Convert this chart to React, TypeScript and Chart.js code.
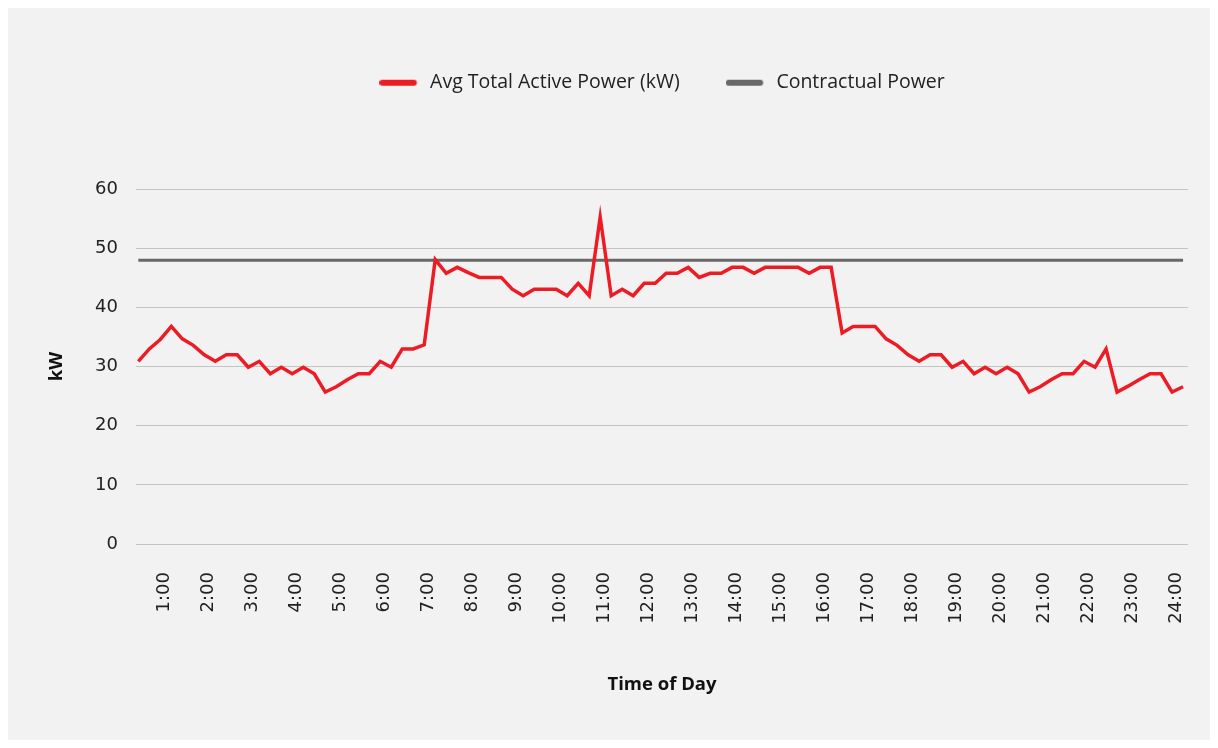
import React, { useEffect, useRef } from 'react';
import { Chart, registerables } from 'chart.js';

Chart.register(...registerables);

// 96 quarter-hour slots; slot index 2 is labelled "1:00", slot 94 is "24:00"
const timeLabels: string[] = [];
for (let i = 0; i < 96; i++) {
  const m = (i + 2) * 15;
  timeLabels.push(`${Math.floor(m / 60)}:${String(m % 60).padStart(2, '0')}`);
}
// show only whole hours on the axis
const hourTickIndexes: number[] = timeLabels
  .map((t, i) => (t.endsWith(':00') && i <= 94 ? i : -1))
  .filter((i) => i >= 0);

const avgPower: number[] = [
  30.9, 33.0, 34.6, 36.8, 34.7, 33.6, 32.0, 30.9, 32.0, 32.0, 29.9, 30.9, 28.8, 29.9, 28.8, 29.9,
  28.8, 25.7, 26.6, 27.8, 28.8, 28.8, 30.9, 29.9, 33.0, 33.0, 33.7, 48.1, 45.8, 46.8, 45.9, 45.1,
  45.1, 45.1, 43.1, 42.0, 43.1, 43.1, 43.1, 42.0, 44.1, 42.0, 55.3, 42.0, 43.1, 42.0, 44.1, 44.1,
  45.8, 45.8, 46.8, 45.1, 45.8, 45.8, 46.8, 46.8, 45.8, 46.8, 46.8, 46.8, 46.8, 45.8, 46.8, 46.8,
  35.7, 36.8, 36.8, 36.8, 34.7, 33.6, 32.0, 30.9, 32.0, 32.0, 29.9, 30.9, 28.8, 29.9, 28.8, 29.9,
  28.8, 25.7, 26.6, 27.8, 28.8, 28.8, 30.9, 29.9, 33.0, 25.7, 26.7, 27.8, 28.8, 28.8, 25.7, 26.6,
];

const contractualPower: number[] = [
  48, 48, 48, 48, 48, 48, 48, 48, 48, 48, 48, 48, 48, 48, 48, 48,
  48, 48, 48, 48, 48, 48, 48, 48, 48, 48, 48, 48, 48, 48, 48, 48,
  48, 48, 48, 48, 48, 48, 48, 48, 48, 48, 48, 48, 48, 48, 48, 48,
  48, 48, 48, 48, 48, 48, 48, 48, 48, 48, 48, 48, 48, 48, 48, 48,
  48, 48, 48, 48, 48, 48, 48, 48, 48, 48, 48, 48, 48, 48, 48, 48,
  48, 48, 48, 48, 48, 48, 48, 48, 48, 48, 48, 48, 48, 48, 48, 48,
];

const seriesNames = ['Avg Total Active Power (kW)', 'Contractual Power'];
const seriesColors = ['#ED1C24', '#686868'];
const yTicks = [0, 10, 20, 30, 40, 50, 60];

const TEXT = '#222222';

function makeSample(color: string): HTMLCanvasElement {
  const c = document.createElement('canvas');
  c.width = 41;
  c.height = 8;
  const g = c.getContext('2d')!;
  g.strokeStyle = color;
  g.lineWidth = 6;
  g.lineCap = 'round';
  g.beginPath();
  g.moveTo(3, 4);
  g.lineTo(34.5, 4);
  g.stroke();
  return c;
}

const legendSpacer = {
  id: 'legendSpacer',
  beforeInit(chart: any) {
    const lg = chart.legend;
    if (!lg || lg.__spaced) return;
    const orig = lg.fit;
    lg.fit = function () {
      orig.call(this);
      this.height = 162.3;
    };
    lg.__spaced = true;
  },
};

export default function App() {
  const ref = useRef<HTMLCanvasElement | null>(null);

  useEffect(() => {
    if (!ref.current) return;
    const samples = seriesColors.map(makeSample);
    const chart = new Chart(ref.current, {
      type: 'line',
      data: {
        datasets: [
          {
            label: seriesNames[0],
            data: avgPower.map((y, i) => ({ x: i, y })),
            borderColor: seriesColors[0],
            backgroundColor: seriesColors[0],
            borderWidth: 3.5,
            pointRadius: 0,
            pointHoverRadius: 0,
            tension: 0,
            fill: false,
          },
          {
            label: seriesNames[1],
            data: contractualPower.map((y, i) => ({ x: i, y })),
            borderColor: seriesColors[1],
            backgroundColor: seriesColors[1],
            borderWidth: 3,
            pointRadius: 0,
            pointHoverRadius: 0,
            tension: 0,
            fill: false,
          },
        ],
      },
      options: {
        animation: false,
        responsive: true,
        maintainAspectRatio: false,
        events: [],
        layout: { padding: { top: 19, right: 22, bottom: 0, left: 0 } },
        plugins: {
          tooltip: { enabled: false },
          legend: {
            position: 'top',
            fullSize: false,
            align: 'center',
            labels: {
              usePointStyle: true,
              pointStyleWidth: 41,
              padding: 46,
              color: TEXT,
              font: { family: 'Open Sans', size: 19.5 },
              generateLabels: (c: any) =>
                c.data.datasets.map((ds: any, i: number) => ({
                  text: ds.label,
                  fillStyle: ds.borderColor,
                  strokeStyle: ds.borderColor,
                  lineWidth: 0,
                  pointStyle: samples[i],
                  hidden: false,
                  datasetIndex: i,
                  fontColor: TEXT,
                })),
            },
          },
        },
        scales: {
          x: {
            type: 'linear',
            min: -0.21,
            max: 95.45,
            grid: { display: false, drawTicks: false },
            border: { display: false },
            afterBuildTicks: (s: any) => {
              s.ticks = hourTickIndexes.map((v) => ({ value: v }));
            },
            afterFit: (s: any) => {
              s.height = 196;
              s.paddingLeft = 0;
              s.paddingRight = 0;
            },
            ticks: {
              autoSkip: false,
              minRotation: 90,
              maxRotation: 90,
              padding: 28,
              labelOffset: 4,
              color: TEXT,
              font: { family: 'DejaVu Sans', size: 18 },
              callback: (v: any) => timeLabels[Number(v)] ?? '',
            },
            title: {
              display: true,
              text: 'Time of Day',
              color: '#111111',
              font: { family: 'Open Sans', size: 18.5, weight: 'bold' },
              padding: { top: 0, bottom: 44 },
            },
          },
          y: {
            min: 0,
            max: 60,
            afterBuildTicks: (s: any) => {
              s.ticks = yTicks.map((v) => ({ value: v }));
            },
            afterFit: (s: any) => {
              s.width = 128;
            },
            grid: { color: '#c4c4c4', lineWidth: 1, drawTicks: false },
            border: { display: false },
            ticks: {
              padding: 18,
              color: TEXT,
              font: { family: 'DejaVu Sans', size: 18 },
            },
            title: {
              display: true,
              text: 'kW',
              color: '#111111',
              font: { family: 'Open Sans', size: 18.5, weight: 'bold' },
              padding: { top: 37.5, bottom: 0 },
            },
          },
        },
      } as any,
      plugins: [legendSpacer],
    });
    return () => chart.destroy();
  }, []);

  return (
    <div style={{ width: 1202, height: 732, background: '#f2f2f2', position: 'relative' }}>
      <canvas ref={ref} />
    </div>
  );
}
